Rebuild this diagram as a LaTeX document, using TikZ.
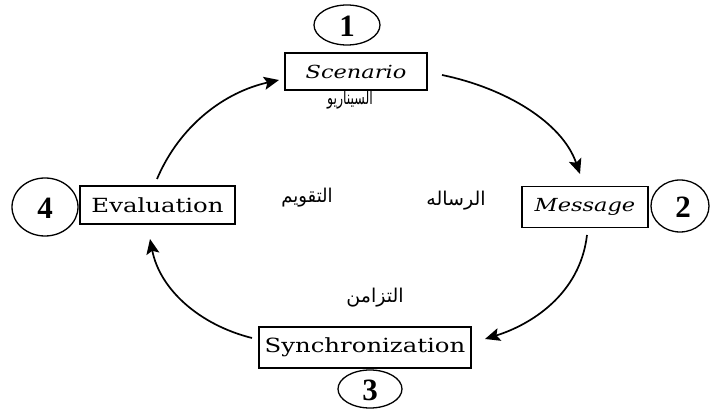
\documentclass[tikz,border=0pt]{standalone}
\usepackage{fontspec}
\setmainfont{Liberation Serif}
\newfontfamily\boxfont[FakeStretch=1.25]{DejaVu Serif}
\newfontfamily\arabicfont[Script=Arabic]{DejaVu Sans}
\TeXXeTstate=1
\usetikzlibrary{arrows.meta}
\begin{document}
\begin{tikzpicture}[x=1pt,y=-1pt,
  stagebox/.style={draw,line width=1.1pt,inner sep=0pt},
  uptext/.style={font=\boxfont\fontsize{19.5}{22}\selectfont},
  ittext/.style={font=\boxfont\fontsize{18}{21}\selectfont\itshape},
  numoval/.style={line width=1.3pt},
  numtext/.style={font=\fontsize{31}{33}\selectfont\bfseries},
  artext/.style={font=\arabicfont\fontsize{19}{21}\selectfont},
  cycle/.style={line width=1.7pt,-{Stealth[length=15pt,width=13pt,inset=3pt]}}]
\useasboundingbox (0,0) rectangle (710,419);

% stages
\node[stagebox,ittext,minimum width=142pt,minimum height=37pt] (scen) at (356,71.5) {Scenario};
\node[stagebox,ittext,minimum width=126pt,minimum height=41pt] (mess) at (585,207) {Message};
\node[stagebox,uptext,minimum width=212pt,minimum height=41pt] (sync) at (365,347.5) {Synchronization};
\node[stagebox,uptext,minimum width=155pt,minimum height=38pt] (eval) at (157.5,205) {Evaluation};

% step numbers in ovals
\draw[numoval] (347,25) ellipse [x radius=33, y radius=20];
\node[numtext] (n1) at (347,26) {1};
\draw[numoval] (680,206) ellipse [x radius=29, y radius=26];
\node[numtext] (n2) at (683,207) {2};
\draw[numoval] (370,389) ellipse [x radius=32, y radius=19];
\node[numtext] (n3) at (370,390) {3};
\draw[numoval] (45,207) ellipse [x radius=33, y radius=29];
\node[numtext] (n4) at (45,208) {4};

% Arabic labels
\node[artext] (l1) at (350,100) {\scalebox{0.66}[1]{\beginR السيناريو\endR}};
\node[artext] (l2) at (456,201) {\beginR الرساله\endR};
\node[artext] (l3) at (375,298) {\beginR التزامن\endR};
\node[artext] (l4) at (307,198) {\scalebox{0.95}[1]{\beginR التقويم\endR}};

% cycle arrows
\coordinate (s1) at (442,75);  \coordinate (e1) at (580,174);
\coordinate (s2) at (587,235); \coordinate (e2) at (485,339);
\coordinate (s3) at (252,338); \coordinate (e3) at (150,239);
\coordinate (s4) at (157,179); \coordinate (e4) at (279,80);
\draw[cycle] (s1) .. controls (505,88) and (562,122) .. (e1);
\draw[cycle] (s2) .. controls (580,295) and (530,325) .. (e2);
\draw[cycle] (s3) .. controls (200,325) and (160,290) .. (e3);
\draw[cycle] (s4) .. controls (180,125) and (225,92) .. (e4);
\end{tikzpicture}
\end{document}
